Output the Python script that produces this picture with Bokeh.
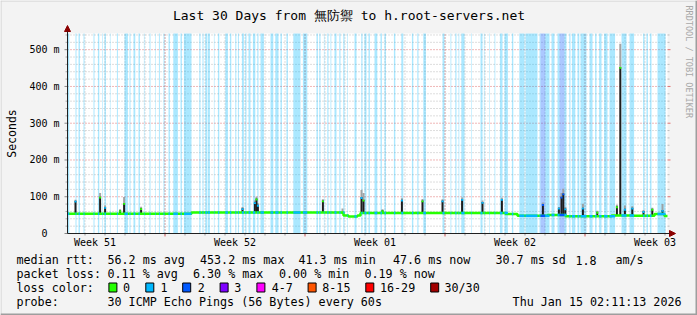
import math
import numpy as np
from bokeh.plotting import figure
from bokeh.models import Range1d, Arrow, NormalHead
from bokeh.embed import file_html
from bokeh.resources import INLINE
from bokeh.core.properties import value

# ---------------- data ----------------
title_text = "Last 30 Days from 無防禦 to h.root-servers.net"
week_labels = ["Week 51", "Week 52", "Week 01", "Week 02", "Week 03"]
week_start_day = [-2.125, 4.875, 11.875, 18.875, 25.875]   # days from left edge of graph
y_ticks_ms = [0, 100, 200, 300, 400, 500]
y_tick_labels = ["0\u00a0\u00a0", "100 m", "200 m", "300 m", "400 m", "500 m"]

# periods with packet loss (days from start) and number of lost pings
loss_start = [0.00, 0.40, 0.55, 0.80, 1.30, 1.52, 1.74, 1.85, 2.12, 2.47, 2.85, 3.10, 3.30, 3.55, 3.82,
              4.10, 4.39, 4.57, 4.80, 5.05, 5.29, 5.65, 5.82, 6.59, 6.75, 6.89, 7.02, 7.32, 7.52, 7.89,
              8.12, 8.39, 8.52, 8.72, 8.89, 9.05, 9.27, 9.49, 9.65, 10.15, 10.39, 10.65, 10.95, 11.29,
              11.77, 12.45, 12.59, 12.82, 12.99, 13.15, 13.35, 13.59, 13.79, 13.99, 14.35, 14.69, 14.85,
              15.05, 15.35, 15.65, 15.85, 16.32, 16.69, 17.22, 17.49, 17.79, 18.75, 19.15, 19.39, 19.55,
              19.69, 20.19, 20.65, 20.82, 21.09, 21.35, 21.62, 21.85, 22.22, 22.59, 22.90, 23.60, 23.65,
              23.89, 24.20, 24.50, 24.60, 24.85, 25.09, 25.22, 25.50, 25.65, 26.10, 26.38, 26.58, 26.83,
              27.10, 27.70, 28.10, 28.78, 28.95, 29.12, 29.50]
loss_end = [0.09, 0.45, 0.62, 0.85, 1.35, 1.59, 1.77, 1.92, 2.15, 2.52, 3.02, 3.15, 3.39, 3.62, 3.85,
            4.15, 4.42, 4.62, 4.85, 5.12, 5.52, 5.72, 6.20, 6.65, 6.80, 6.99, 7.12, 7.35, 7.59, 8.02,
            8.19, 8.44, 8.57, 8.82, 8.95, 9.15, 9.39, 9.55, 9.82, 10.29, 10.55, 10.72, 11.02, 11.65,
            11.99, 12.52, 12.65, 12.85, 13.05, 13.19, 13.45, 13.65, 13.85, 14.02, 14.45, 14.75, 14.95,
            15.12, 15.49, 15.72, 15.92, 16.39, 16.79, 17.29, 17.55, 17.92, 18.85, 19.19, 19.45, 19.59,
            19.85, 20.22, 20.75, 20.85, 21.12, 21.39, 21.75, 22.02, 22.29, 22.85, 23.50, 23.65, 23.89,
            24.10, 24.35, 24.60, 24.85, 24.95, 25.15, 25.39, 25.59, 25.95, 26.25, 26.45, 26.70, 27.00,
            27.38, 27.95, 28.33, 28.85, 29.02, 29.20, 29.90]
loss_pings = [1] * len(loss_start)
loss_pings[82] = 2
loss_pings[86] = 2

# median rtt baseline (level changes), ms
base_day = [0.0, 6.2, 13.8, 14.05, 14.5, 14.65, 21.9, 22.5, 24.0, 24.9, 27.2, 28.2, 29.35, 29.85]
base_ms = [54, 57, 49, 46, 49, 56, 53, 48, 50, 47, 49, 48, 53, 47.6]

# rtt spikes: day, median peak (ms), top of smoke (ms)
spike_day = [0.40, 1.63, 1.88, 2.63, 2.83, 3.68, 8.75, 9.37, 9.45, 9.52, 12.77, 13.75, 14.70, 14.80,
             15.75, 16.72, 17.75, 18.75, 19.73, 20.75, 21.72, 23.77, 24.57, 24.70, 24.79, 24.89,
             25.77, 26.49, 27.47, 27.64, 27.87, 28.24, 28.80, 29.24, 29.75]
spike_ms = [89, 100, 72, 63, 83, 69, 69, 85, 95, 78, 90, 58, 99, 92, 63, 92, 90, 90, 94, 86, 94, 80,
            70, 100, 109, 68, 70, 59, 74, 453, 67, 70, 61, 67, 64]
smoke_ms = [92, 110, 76, 66, 99, 73, 72, 90, 100, 82, 93, 68, 118, 110, 66, 96, 94, 93, 98, 90, 97, 84,
            72, 110, 122, 72, 81, 62, 78, 516, 76, 74, 64, 70, 80]

rtt_stats = [56.2, 453.2, 41.3, 47.6, 30.7]
rtt_names = ["avg", "max", "min", "now", "sd"]
am_s = 1.8
loss_stats = [0.11, 6.30, 0.00, 0.19]
loss_names = ["avg", "max", "min", "now"]
loss_color_labels = ["0", "1", "2", "3", "4-7", "8-15", "16-29", "30/30"]
loss_color_values = ["#26ff00", "#00b8ff", "#0059ff", "#7e00ff", "#ff00ff", "#ff5500", "#ff0000", "#a10000"]
probe_text = "30 ICMP Echo Pings (56 Bytes) every 60s"
date_text = "Thu Jan 15 02:11:13 2026"

# ---------------- layout constants ----------------
W, H = 697, 315
BG = "#f3f3f3"
MONO = "DejaVu Sans Mono"
X0, X1, YT, YB = 67, 667, 33, 233       # graph area in canvas pixels
DAYS, YMAX = 30, 544


def x_of_px(px):
    return (px - X0) * DAYS / (X1 - X0)


def y_of_py(py):
    return (YB - py) * YMAX / (YB - YT)


p = figure(width=W, height=H, output_backend="svg", toolbar_location=None,
           x_range=Range1d(x_of_px(0), x_of_px(W)), y_range=Range1d(y_of_py(H), y_of_py(0)),
           x_axis_type=None, y_axis_type=None, min_border=0,
           background_fill_color=BG, border_fill_color=BG, outline_line_color=None)
p.extra_x_ranges = {"px": Range1d(0, W)}
p.extra_y_ranges = {"px": Range1d(H, 0)}

# graph canvas
p.quad(left=[0], right=[DAYS], bottom=[0], top=[YMAX], fill_color="white", line_color=None)

# grid
day_ticks = [week_start_day[1] - 4 + k for k in range(30)]
day_ticks = [d for d in day_ticks if 0 < d < DAYS]
major_grid = [d for d in week_start_day if 0 < d < DAYS]
yminor = [v for v in range(20, YMAX, 20) if v % 100 != 0]
ymajor = y_ticks_ms[1:]
p.segment(x0=day_ticks, x1=day_ticks, y0=0, y1=YMAX, line_color="#bbbbbb", line_dash="1 2")
p.segment(x0=0, x1=DAYS, y0=yminor, y1=yminor, line_color="#bbbbbb", line_dash="1 2")
p.segment(x0=major_grid, x1=major_grid, y0=0, y1=YMAX, line_color="#e07070", line_dash="1 2")
p.segment(x0=0, x1=DAYS, y0=ymajor, y1=ymajor, line_color="#e07070", line_dash="1 2")

# loss background bands
band_colors = [loss_color_values[n] for n in loss_pings]
p.quad(left=loss_start, right=loss_end, bottom=0, top=YMAX,
       fill_color=band_colors, fill_alpha=0.33, line_color=None)

# spikes (smoke + dark core + coloured median tip)
sd = np.array(spike_day)
idx = np.searchsorted(np.array(base_day), sd, side="right") - 1
spike_base = np.array(base_ms)[idx]
tip_colors = []
for d in spike_day:
    c = loss_color_values[0]
    for s, e, n in zip(loss_start, loss_end, loss_pings):
        if s <= d <= e:
            c = loss_color_values[n]
    tip_colors.append(c)
w = 0.05
p.quad(left=sd - w, right=sd + w, bottom=spike_ms, top=smoke_ms,
       fill_color="#9a9a9a", fill_alpha=0.9, line_color=None)
p.quad(left=sd - w, right=sd + w, bottom=spike_base, top=spike_ms,
       fill_color="#1e1e1e", line_color=None)
p.quad(left=sd - w, right=sd + w, bottom=np.array(spike_ms) - 5, top=spike_ms,
       fill_color=tip_colors, line_color=None)

# median line, coloured by loss
p.step(x=base_day + [DAYS], y=base_ms + [base_ms[-1]], mode="after",
       line_color=loss_color_values[0], line_width=2.5)
ls = np.array(loss_start)
bidx = np.searchsorted(np.array(base_day), ls, side="right") - 1
band_base = np.array(base_ms)[bidx]
p.segment(x0=loss_start, x1=loss_end, y0=band_base, y1=band_base,
          line_color=band_colors, line_width=2.5)

# axes with arrows
p.add_layout(Arrow(end=NormalHead(size=6, fill_color="#8b0000", line_color="#8b0000"),
                   x_start=0, y_start=0, x_end=x_of_px(675), y_end=0,
                   line_color="#202020", line_width=1))
p.add_layout(Arrow(end=NormalHead(size=6, fill_color="#8b0000", line_color="#8b0000"),
                   x_start=0, y_start=0, x_end=0, y_end=y_of_py(25),
                   line_color="#202020", line_width=1))

# y ticks (left and right) and labels
p.segment(x0=X0 - 2, x1=X0, y0=yminor, y1=yminor, x_range_name="px", line_color="#aaaaaa")
p.segment(x0=X0 - 3, x1=X0, y0=y_ticks_ms, y1=y_ticks_ms, x_range_name="px", line_color="#888888")
p.segment(x0=X1, x1=X1 + 2, y0=yminor, y1=yminor, x_range_name="px", line_color="#bbbbbb")
p.segment(x0=X1, x1=X1 + 3, y0=ymajor, y1=ymajor, x_range_name="px", line_color="#e07070")
p.text(x=[X0 - 8] * len(y_ticks_ms), y=y_ticks_ms, text=y_tick_labels, x_range_name="px",
       text_font=value(MONO), text_font_size="10px", text_align="right",
       text_baseline="middle", text_color="black")

# x ticks and week labels
p.segment(x0=day_ticks, x1=day_ticks, y0=YB, y1=YB + 2, y_range_name="px", line_color="#999999")
p.segment(x0=major_grid, x1=major_grid, y0=YB, y1=YB + 3, y_range_name="px", line_color="#e07070")
label_pos = [d + 3.5 for d in week_start_day]
p.text(x=label_pos, y=[241.5] * len(label_pos), text=week_labels, y_range_name="px",
       text_font=value(MONO), text_font_size="10px", text_align="center",
       text_baseline="middle", text_color="black")


# texts in canvas pixel space
def ptext(x, y, t, size, align="left", color="black", angle=0.0):
    p.text(x=x, y=y, text=t, x_range_name="px", y_range_name="px", angle=angle,
           text_font=value(MONO), text_font_size=size, text_align=align,
           text_baseline="middle", text_color=color)


ptext([348.5], [15], [title_text], "13px", align="center")
ptext([11], [(YT + YB) / 2], ["Seconds"], "11.5px", align="center", angle=math.pi / 2)
ptext([688], [5], ["RRDTOOL / TOBI OETIKER"], "8.5px", color="#a8a8a8", angle=-math.pi / 2)

row_y = [259.5, 273.3, 287.3, 301]
row1 = ["median rtt:"] + [f"{v:.1f} ms {n}" for v, n in zip(rtt_stats, rtt_names)] + [f"{am_s:.1f}", "am/s"]
row1_x = [16, 107, 199.5, 298, 392.5, 495, 575, 615]
row2 = ["packet loss:"] + [f"{v:.2f} % {n}" for v, n in zip(loss_stats, loss_names)]
row2_x = [16, 107, 192.5, 278.5, 364]
lab_x = [122.5, 160, 197.3, 233.8, 271.2, 321.8, 379.5, 444]
box_x = [108.4, 145.3, 182.2, 219.6, 256.4, 307.6, 365.3, 430.2]
ptext(row1_x, [row_y[0]] * len(row1), row1, "11.7px")
ptext(row2_x, [row_y[1]] * len(row2), row2, "11.7px")
ptext([16] + lab_x, [row_y[2]] * (len(lab_x) + 1), ["loss color:"] + loss_color_labels, "11.7px")
ptext([16, 107], [row_y[3]] * 2, ["probe:", probe_text], "11.7px")
ptext([681], [row_y[3]], [date_text], "11.7px", align="right")
bx = np.array(box_x)
p.quad(left=bx, right=bx + 8, top=282.5, bottom=291.5, x_range_name="px", y_range_name="px",
       fill_color=loss_color_values, line_color="black", line_width=1)

# 3-D frame shading of the image
p.quad(left=[0, 0, 0, W - 2], right=[W, 1, W, W], top=[0, 0, H - 2, 0], bottom=[1, H, H, H],
       x_range_name="px", y_range_name="px",
       fill_color=["#cfcfcf", "#cfcfcf", "#9e9e9e", "#9e9e9e"], line_color=None)

open("out.html", "w").write(file_html(p, INLINE))
